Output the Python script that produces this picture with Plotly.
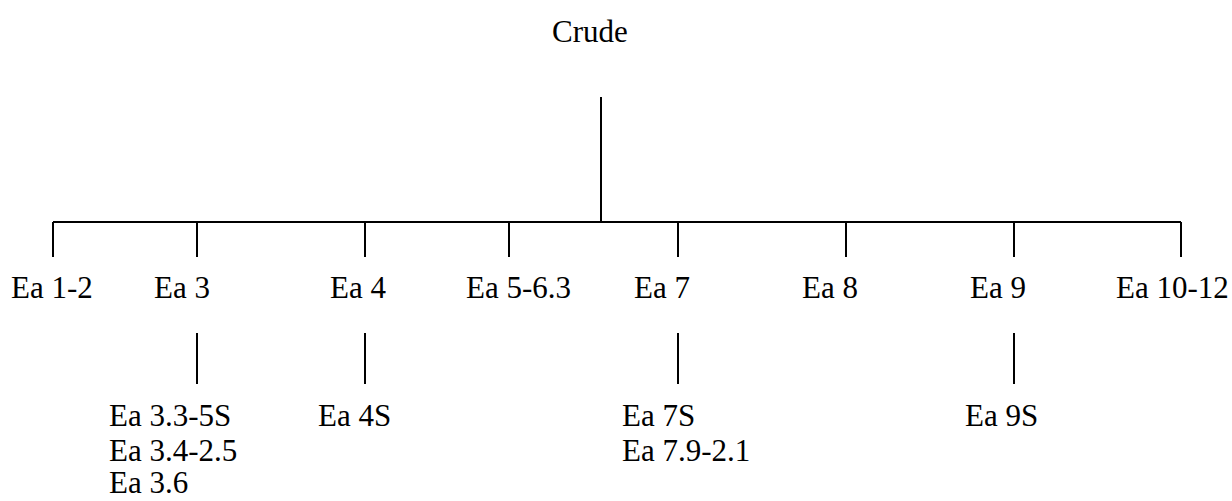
import plotly.graph_objects as go

# ---- data (tree content) ----
root = "Crude"
level1 = ["Ea 1-2", "Ea 3", "Ea 4", "Ea 5-6.3", "Ea 7", "Ea 8", "Ea 9", "Ea 10-12"]
children_ea3 = ["Ea 3.3-5S", "Ea 3.4-2.5", "Ea 3.6"]
children_ea4 = ["Ea 4S"]
children_ea7 = ["Ea 7S", "Ea 7.9-2.1"]
children_ea9 = ["Ea 9S"]
children = {"Ea 3": children_ea3, "Ea 4": children_ea4, "Ea 7": children_ea7, "Ea 9": children_ea9}

# ---- layout (pixel-space positions of the diagram) ----
W, H = 1232, 501
branch_x = [53, 197, 365, 509, 678, 846, 1014, 1181]
label_x = [52, 182, 358, 518, 662, 830, 998, 1172]
root_x, root_label_x = 601, 590
root_top, bar_y, drop_bottom = 97, 222, 257
sub_top, sub_bottom = 333, 384
child_left = {"Ea 3": 107, "Ea 4": 316, "Ea 7": 620, "Ea 9": 963}
y_root_label, y_l1_label = 31, 287
y_child_rows = [415, 450, 482]

FONT = dict(family="Liberation Serif", size=31, color="black")

xs, ys = [], []
# root stem
xs += [root_x, root_x, None]; ys += [root_top, bar_y, None]
# horizontal bar
xs += [branch_x[0], branch_x[-1], None]; ys += [bar_y, bar_y, None]
# drops
for bx in branch_x:
    xs += [bx, bx, None]; ys += [bar_y, drop_bottom, None]
# sub stems
for name in children:
    bx = branch_x[level1.index(name)]
    xs += [bx, bx, None]; ys += [sub_top, sub_bottom, None]

fig = go.Figure()
fig.add_trace(go.Scatter(x=xs, y=ys, mode="lines", line=dict(color="black", width=2),
                         hoverinfo="skip", showlegend=False))

ann = [dict(x=root_label_x, y=y_root_label, text=root, xanchor="center", yanchor="middle")]
for name, lx in zip(level1, label_x):
    ann.append(dict(x=lx, y=y_l1_label, text=name, xanchor="center", yanchor="middle"))
for name, kids in children.items():
    for i, k in enumerate(kids):
        ann.append(dict(x=child_left[name], y=y_child_rows[i], text=k, xanchor="left", yanchor="middle"))
for a in ann:
    a.update(xref="x", yref="y", showarrow=False, font=FONT)

fig.update_layout(
    width=W, height=H, margin=dict(l=0, r=0, t=0, b=0),
    paper_bgcolor="white", plot_bgcolor="white",
    font=FONT,
    xaxis=dict(range=[0, W], visible=False, fixedrange=True),
    yaxis=dict(range=[H, 0], visible=False, fixedrange=True),
    annotations=ann,
)
fig.write_html("out.html", config={"displayModeBar": False},
               post_script="document.body.style.margin='0';document.body.style.overflow='hidden';")
